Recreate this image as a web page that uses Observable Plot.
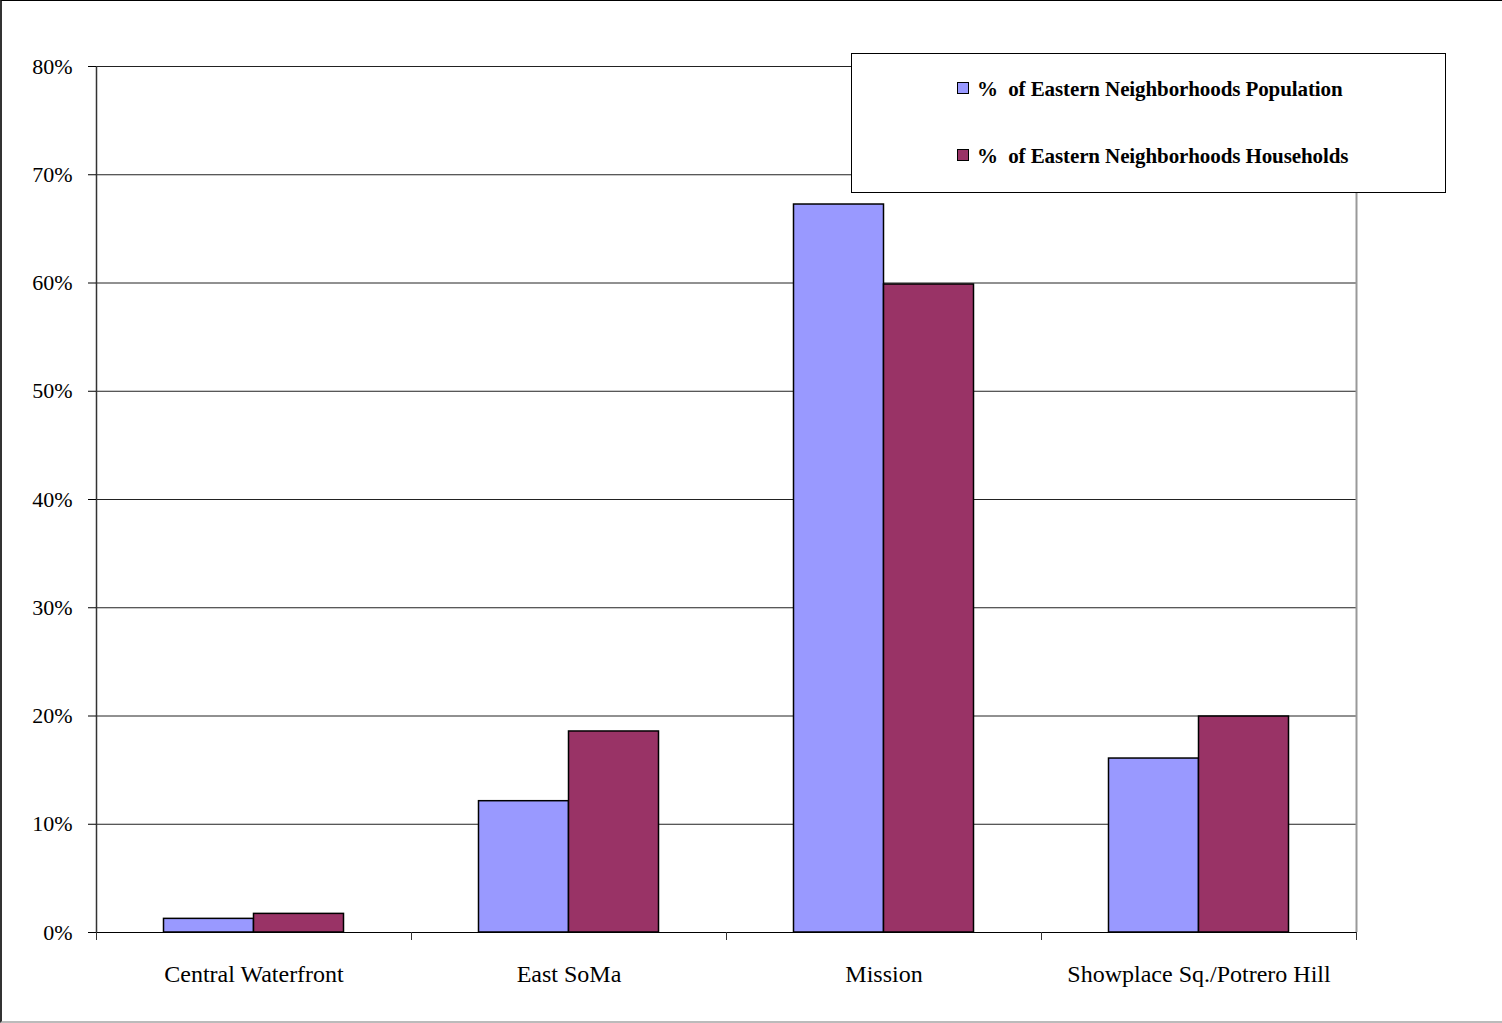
<!DOCTYPE html>
<html>
<head>
<meta charset="utf-8">
<script src="https://cdn.jsdelivr.net/npm/d3@7"></script>
<script src="https://cdn.jsdelivr.net/npm/@observablehq/plot@0.6"></script>
<style>
  html, body { margin: 0; padding: 0; background: #fff; overflow: hidden; }
  #wrap { position: relative; width: 1502px; height: 1023px; font-family: "Liberation Serif", "Times New Roman", serif; }
  #wrap svg { position: absolute; left: 0; top: 0; }
  #border { position: absolute; left: 0; top: 0; width: 1500px; height: 1020px; border-top: 1px solid #000; border-left: 2px solid #333; border-bottom: 2px solid #bbb; pointer-events: none; }
  #legend { position: absolute; left: 851px; top: 53px; width: 593px; height: 138px; border: 1.5px solid #000; background: #fff; }
  .item { position: absolute; left: 105px; font-weight: bold; font-size: 21px; color: #000; white-space: pre; letter-spacing: -0.1px; line-height: 1; }
  .sw { display: inline-block; width: 10px; height: 10px; border: 1px solid #000; margin-right: 8px; vertical-align: 2px; }
</style>
</head>
<body>
<div id="wrap"></div>
<script>
const categories = ["Central Waterfront", "East SoMa", "Mission", "Showplace Sq./Potrero Hill"];
const populationShare = [0.0126, 0.1213, 0.6725, 0.1607];
const householdShare = [0.0172, 0.1857, 0.5986, 0.1995];
const seriesNames = ["% of Eastern Neighborhoods Population", "% of Eastern Neighborhoods Households"];
const seriesColors = ["#9999FF", "#993366"];
const yTicks = [0, 0.1, 0.2, 0.3, 0.4, 0.5, 0.6, 0.7, 0.8];

const data = categories.map((c, i) => ({category: c, pop: populationShare[i], hh: householdShare[i]}));

const W = 1502, H = 1023, ml = 96, mr = 146, mt = 66, mb = 91;
const bw = (W - ml - mr) / categories.length;   // band width
const outer = bw * 67.5 / 315;                   // outer gap per side
const barW = bw * 90 / 315;                      // single bar width

const chart = Plot.plot({
  width: W,
  height: H,
  marginLeft: ml,
  marginRight: mr,
  marginTop: mt,
  marginBottom: mb,
  style: {fontFamily: "Liberation Serif, Times New Roman, serif", fontSize: "22px", color: "#000", background: "transparent", overflow: "visible"},
  x: {domain: categories, padding: 0, label: null},
  y: {domain: [0, 0.8], label: null},
  marks: [
    Plot.ruleY(yTicks.slice(1), {stroke: "#222", strokeWidth: 1}),
    Plot.ruleX([categories[categories.length - 1]], {x: d => d, dx: bw / 2, stroke: "#999", strokeWidth: 2}),
    Plot.barY(data, {x: "category", y: "pop", fill: seriesColors[0], stroke: "#000", strokeWidth: 1.5, insetLeft: outer, insetRight: bw - outer - barW}),
    Plot.barY(data, {x: "category", y: "hh", fill: seriesColors[1], stroke: "#000", strokeWidth: 1.5, insetLeft: outer + barW, insetRight: outer}),
    Plot.ruleY([0], {stroke: "#000", strokeWidth: 1.2}),
    Plot.ruleX([categories[0]], {x: d => d, dx: -bw / 2, stroke: "#333", strokeWidth: 1.5}),
    Plot.ruleX(categories, {x: d => d, y1: 0, y2: 0, insetBottom: -8, dx: -bw / 2, stroke: "#333", strokeWidth: 1}),
    Plot.ruleX([categories[categories.length - 1]], {x: d => d, y1: 0, y2: 0, insetBottom: -8, dx: bw / 2, stroke: "#333", strokeWidth: 1}),
    Plot.axisY({ticks: yTicks, tickFormat: d3.format(".0%"), tickSize: 8, tickPadding: 16, stroke: "#000", fontSize: 22, label: null}),
    Plot.axisX({tickSize: 0, tickPadding: 32, fontSize: 24, label: null})
  ]
});

const wrap = document.getElementById("wrap");
wrap.appendChild(chart);

const border = document.createElement("div");
border.id = "border";
wrap.appendChild(border);

const legend = document.createElement("div");
legend.id = "legend";
const tops = [24.5, 92];
seriesNames.forEach((name, i) => {
  const it = document.createElement("div");
  it.className = "item";
  it.style.top = tops[i] + "px";
  const sw = document.createElement("span");
  sw.className = "sw";
  sw.style.background = seriesColors[i];
  it.appendChild(sw);
  it.appendChild(document.createTextNode(name.replace("% of", "%  of")));
  legend.appendChild(it);
});
wrap.appendChild(legend);
</script>
</body>
</html>
